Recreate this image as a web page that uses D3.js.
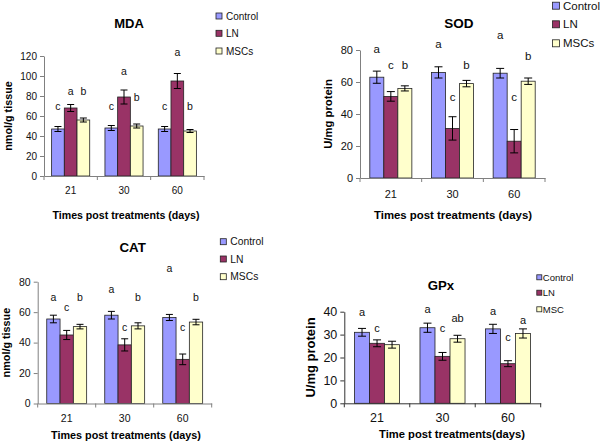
<!DOCTYPE html>
<html><head><meta charset="utf-8">
<script src="https://cdn.jsdelivr.net/npm/d3@7"></script>
<style>body{margin:0;background:#fff}svg{display:block}text{font-family:"Liberation Sans",Arial,sans-serif}</style>
</head><body>
<svg id="c" width="600" height="441"></svg>
<script>
const categories = ["21","30","60"];
const seriesA = ["Control","LN","MSCs"];
const seriesGpx = ["Control","LN","MSC"];

// MDA (nmol/g tissue)
const mdaTicks = [0,20,40,60,80,100,120];
const mdaControl = [47,48,47];
const mdaLN = [68,79,95];
const mdaMSC = [56,50,45];
const mdaControlErr = [2.5,2.5,2.5];
const mdaLNErr = [3.5,7,7.5];
const mdaMSCErr = [2,2,1.5];
const mdaLetters = [["c","a","b"],["c","a","b"],["c","a","b"]];
const mdaLetterY = [[70,85,85],[70,105,79],[70,124,70]];

// SOD (U/mg protein)
const sodTicks = [0,20,40,60,80];
const sodControl = [63,66,65.5];
const sodLN = [51,31,23];
const sodMSC = [56,59,60.5];
const sodControlErr = [3.8,3.5,3];
const sodLNErr = [3,7.3,7.3];
const sodMSCErr = [1.6,2,2];
const sodLetters = [["a","c","b"],["a","c","b"],["a","c","b"]];
const sodLetterY = [[80.5,70.5,70.5],[84,50.5,70.5],[89.5,50.5,76]];

// CAT (nmol/g tissue)
const catTicks = [0,20,40,60,80];
const catControl = [55.5,58,56.5];
const catLN = [45,38.5,29];
const catMSC = [50.5,51,53.5];
const catControlErr = [2.5,2.5,2];
const catLNErr = [3,4,3.5];
const catMSCErr = [1.5,2,1.8];
const catLetters = [["a","c","b"],["a","c","b"],["a","c","b"]];
const catLetterY = [[70,63.3,70],[75.3,50,70],[88.5,50,70]];

// GPx (U/mg protein)
const gpxTicks = [0,10,20,30,40];
const gpxControl = [31,33,32.5];
const gpxLN = [26.2,20.5,17.3];
const gpxMSC = [25.6,28.2,30.5];
const gpxControlErr = [1.7,2,2];
const gpxLNErr = [1.5,1.7,1.3];
const gpxMSCErr = [1.5,1.5,2];
const gpxLetters = [["a","c",""],["a","c","ab"],["a","c","a"]];
const gpxLetterY = [[40,32.8,null],[41,32.8,37.1],[40.4,28.8,36.4]];

const colors = ["#9999ff","#993366","#ffffcc"];
const svg = d3.select("#c");

function panel(cfg){
  const g = svg.append("g");
  const x = d3.scaleBand().domain(categories).range([cfg.x0,cfg.x1]);
  const xs = d3.scaleBand().domain([0,1,2]).range([0,x.bandwidth()]).paddingInner(0).paddingOuter(cfg.pad);
  const y = d3.scaleLinear().domain([0,d3.max(cfg.ticks)]).range([cfg.yb,cfg.yt]);
  const vals = [cfg.control,cfg.ln,cfg.msc];
  const errs = [cfg.controlErr,cfg.lnErr,cfg.mscErr];
  const rows = [];
  categories.forEach((c,ci)=>vals.forEach((v,si)=>rows.push({c,ci,si,v:v[ci],e:errs[si][ci],l:cfg.letters[ci][si],ly:cfg.letterY[ci][si]})));

  // bars
  g.selectAll("rect.bar").data(rows).join("rect")
    .attr("x",d=>x(d.c)+xs(d.si)).attr("y",d=>y(d.v))
    .attr("width",xs.bandwidth()).attr("height",d=>y(0)-y(d.v))
    .attr("fill",d=>colors[d.si]).attr("stroke","#222").attr("stroke-width",0.8);
  // error bars
  const cap = cfg.cap;
  rows.forEach(d=>{
    const cx = x(d.c)+xs(d.si)+xs.bandwidth()/2;
    const p = d3.path();
    p.moveTo(cx,y(d.v+d.e)); p.lineTo(cx,y(d.v-d.e));
    p.moveTo(cx-cap,y(d.v+d.e)); p.lineTo(cx+cap,y(d.v+d.e));
    p.moveTo(cx-cap,y(d.v-d.e)); p.lineTo(cx+cap,y(d.v-d.e));
    g.append("path").attr("d",p.toString()).attr("stroke","#000").attr("stroke-width",1).attr("fill","none");
  });
  // letters
  g.selectAll("text.let").data(rows.filter(d=>d.l)).join("text")
    .attr("x",d=>x(d.c)+xs(d.si)+xs.bandwidth()/2).attr("y",d=>y(d.ly))
    .attr("dy","0.35em").attr("text-anchor","middle")
    .attr("font-size",cfg.letSize).attr("fill","#111").text(d=>d.l);

  // y axis
  const ya = g.append("g").attr("transform",`translate(${cfg.x0},0)`)
    .call(d3.axisLeft(y).tickValues(cfg.ticks).tickSize(4).tickSizeOuter(0).tickPadding(3));
  ya.select(".domain").attr("stroke",cfg.axisColor);
  ya.selectAll(".tick line").attr("stroke",cfg.axisColor);
  ya.selectAll(".tick text").attr("font-size",cfg.tickSize).attr("fill","#111").attr("font-family","Liberation Sans, Arial, sans-serif");
  // x axis
  const xa = g.append("g").attr("transform",`translate(0,${cfg.yb})`)
    .call(d3.axisBottom(x).tickSize(0).tickPadding(cfg.xTickPad));
  xa.select(".domain").attr("stroke",cfg.axisColor);
  xa.selectAll(".tick text").attr("font-size",cfg.tickSize).attr("fill","#111").attr("font-family","Liberation Sans, Arial, sans-serif");
  const bounds = categories.map(c=>x(c)).concat([cfg.x1]);
  g.selectAll("line.bd").data(bounds).join("line")
    .attr("x1",d=>d).attr("x2",d=>d).attr("y1",cfg.yb).attr("y2",cfg.yb+4)
    .attr("stroke",cfg.axisColor);

  // titles
  g.append("text").attr("x",cfg.titleX).attr("y",cfg.titleY).attr("text-anchor","middle")
    .attr("font-weight","bold").attr("font-size",cfg.titleSize).text(cfg.title);
  g.append("text").attr("transform",`translate(${cfg.ylabX},${(cfg.yt+cfg.yb)/2}) rotate(-90)`)
    .attr("dy","0.35em").attr("text-anchor","middle").attr("font-weight","bold")
    .attr("font-size",cfg.ylabSize).text(cfg.ylab);
  g.append("text").attr("x",cfg.xlabX).attr("y",cfg.xlabY).attr("text-anchor","middle")
    .attr("font-weight","bold").attr("font-size",cfg.xlabSize).text(cfg.xlab);

  // legend
  cfg.series.forEach((s,i)=>{
    const ly = cfg.legY[i];
    g.append("rect").attr("x",cfg.legX-cfg.legBox/2).attr("y",ly-cfg.legBox/2)
      .attr("width",cfg.legBox).attr("height",cfg.legBox)
      .attr("fill",colors[i]).attr("stroke","#222").attr("stroke-width",0.8);
    g.append("text").attr("x",cfg.legX+cfg.legBox/2+cfg.legGap).attr("y",ly).attr("dy","0.35em")
      .attr("font-size",cfg.legSize).attr("fill","#111").text(s);
  });
}

panel({title:"MDA",ylab:"nmol/g tissue",xlab:"Times post treatments (days)",series:seriesA,
  ticks:mdaTicks,control:mdaControl,ln:mdaLN,msc:mdaMSC,controlErr:mdaControlErr,lnErr:mdaLNErr,mscErr:mdaMSCErr,
  letters:mdaLetters,letterY:mdaLetterY,
  x0:44,x1:204,yb:176,yt:56,pad:0.6,cap:3.5,axisColor:"#808080",
  tickSize:10,xTickPad:11,letSize:10.5,titleX:129,titleY:27.5,titleSize:13,
  ylabX:8,ylabSize:10.8,xlabX:126,xlabY:219,xlabSize:10.6,
  legX:219,legY:[16,33.3,51],legBox:6,legGap:4,legSize:10});

panel({title:"SOD",ylab:"U/mg protein",xlab:"Times post treatments (days)",series:seriesA,
  ticks:sodTicks,control:sodControl,ln:sodLN,msc:sodMSC,controlErr:sodControlErr,lnErr:sodLNErr,mscErr:sodMSCErr,
  letters:sodLetters,letterY:sodLetterY,
  x0:360,x1:545,yb:178,yt:50,pad:0.7,cap:4,axisColor:"#808080",
  tickSize:11,xTickPad:12,letSize:11.5,titleX:459,titleY:27.5,titleSize:13.5,
  ylabX:328,ylabSize:11.3,xlabX:453,xlabY:218.5,xlabSize:11.4,
  legX:556,legY:[5.7,24.3,43.3],legBox:7,legGap:3.5,legSize:11.5});

panel({title:"CAT",ylab:"nmol/g tissue",xlab:"Times post treatments (days)",series:seriesA,
  ticks:catTicks,control:catControl,ln:catLN,msc:catMSC,controlErr:catControlErr,lnErr:catLNErr,mscErr:catMSCErr,
  letters:catLetters,letterY:catLetterY,
  x0:37.7,x1:211.7,yb:403.5,yt:281.7,pad:0.68,cap:3.5,axisColor:"#808080",
  tickSize:10.5,xTickPad:11,letSize:10.5,titleX:132.7,titleY:252,titleSize:13.3,
  ylabX:6.5,ylabSize:10.8,xlabX:126,xlabY:439,xlabSize:10.8,
  legX:223.3,legY:[241.7,259,276.7],legBox:6,legGap:4,legSize:10.3});

panel({title:"GPx",ylab:"U/mg protein",xlab:"Time post treatments(days)",series:seriesGpx,
  ticks:gpxTicks,control:gpxControl,ln:gpxLN,msc:gpxMSC,controlErr:gpxControlErr,lnErr:gpxLNErr,mscErr:gpxMSCErr,
  letters:gpxLetters,letterY:gpxLetterY,
  x0:344.3,x1:540.7,yb:403.3,yt:311.7,pad:0.68,cap:4,axisColor:"#333",
  tickSize:12.5,xTickPad:10,letSize:11,titleX:441,titleY:290,titleSize:13.2,
  ylabX:310,ylabSize:13,xlabX:452,xlabY:437.5,xlabSize:11.2,
  legX:539.3,legY:[277.3,292.7,309.3],legBox:5,legGap:1,legSize:9.5});
</script>
</body></html>
